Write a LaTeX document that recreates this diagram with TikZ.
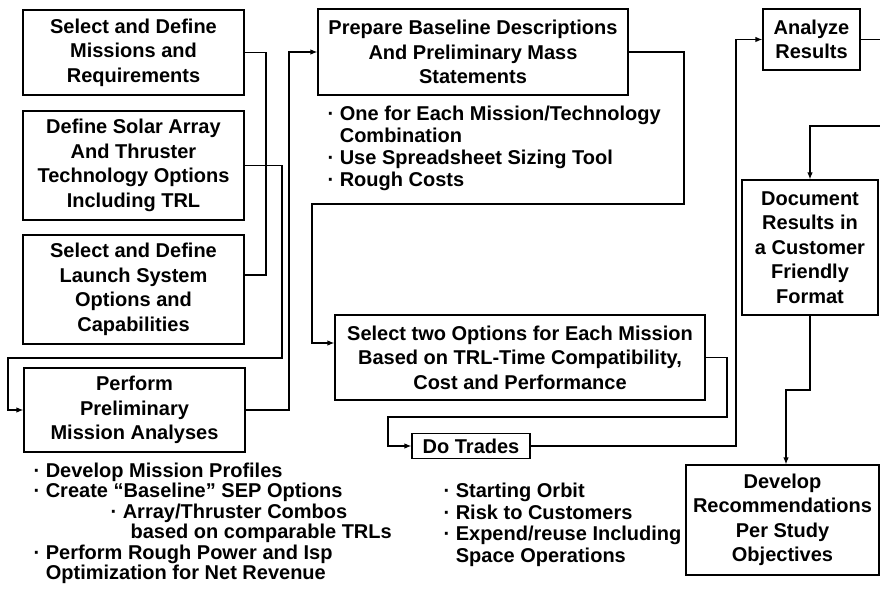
\documentclass[tikz,border=0pt]{standalone}
\usepackage{fontspec}
\setmainfont{Liberation Sans}
\usetikzlibrary{arrows.meta}
\begin{document}
\begin{tikzpicture}[x=1pt,y=-1pt,line width=1.2pt]
\tikzstyle{task} = [draw, align=center, inner sep=0, font=\bfseries\fontsize{20}{24.5}\selectfont]
\tikzstyle{notes} = [anchor=north west, align=left, inner sep=0]
\tikzstyle{arr} = [-{Latex[length=7pt,width=5.5pt]}]

\useasboundingbox (0,0) rectangle (880,601);

% left column
\node [task, minimum width=221pt, minimum height=85pt] (miss) at (133.5,52.5) {Select and Define\\Missions and\\Requirements};
\node [task, minimum width=221pt, minimum height=109pt] (tech) at (133.5,165.5) {Define Solar Array\\And Thruster\\Technology Options\\Including TRL};
\node [task, minimum width=221pt, minimum height=109pt] (launch) at (133.5,289.5) {Select and Define\\Launch System\\Options and\\Capabilities};
\node [task, minimum width=221pt, minimum height=84pt] (perf) at (134.5,410) {Perform\\Preliminary\\Mission Analyses};

% middle column
\node [task, minimum width=310pt, minimum height=86pt] (prep) at (473,52) {Prepare Baseline Descriptions\\And Preliminary Mass\\Statements};
\node [task, minimum width=370pt, minimum height=85pt] (opts) at (520,357.5) {Select two Options for Each Mission\\Based on TRL-Time Compatibility,\\Cost and Performance};
\node [task, minimum width=118pt, minimum height=25pt] (trades) at (471,446) {Do Trades};

% right column
\node [task, minimum width=97pt, minimum height=61pt] (anal) at (811.5,39.5) {Analyze\\Results};
\node [task, minimum width=136pt, minimum height=135pt] (doc) at (810,247.5) {Document\\Results in\\a Customer\\Friendly\\Format};
\node [task, minimum width=193pt, minimum height=110pt] (recs) at (782.5,520) {Develop\\Recommendations\\Per Study\\Objectives};

% bullet lists
\node [notes, font=\bfseries\fontsize{20}{20.4}\selectfont] (perfnotes) at (33,462.5) {%
· Develop Mission Profiles\\
· Create “Baseline” SEP Options\\
\hspace*{77pt}· Array/Thruster Combos\\
\hspace*{97pt}based on comparable TRLs\\
· Perform Rough Power and Isp\\
\hphantom{· }Optimization for Net Revenue};
\node [notes, font=\bfseries\fontsize{20}{22}\selectfont] (prepnotes) at (327,105.5) {%
· One for Each Mission/Technology\\
\hphantom{· }Combination\\
· Use Spreadsheet Sizing Tool\\
· Rough Costs};
\node [notes, font=\bfseries\fontsize{20}{21.7}\selectfont] (tradenotes) at (443,482.5) {%
· Starting Orbit\\
· Risk to Customers\\
· Expend/reuse Including\\
\hphantom{· }Space Operations};

% connectors
\coordinate (jl) at (266,275);
\coordinate (jo) at (312,343);
\coordinate (jr) at (786,390);
\draw (miss.east) -| (jl) -- (jl -| launch.east);
\draw [arr] (tech.east) -| (282,358) -- (8,358) |- (perf.west);
\draw [arr] (perf.east) -| (289,52) -- (prep.west);
\draw [arr] (prep.east) -| (684,204) -| (jo) -- (jo -| opts.west);
\draw [arr] (opts.east) -| (727,417) -| (388,446) -- (trades.west);
\draw [arr] (trades.east) -| (736,39.5) -- (anal.west);
\draw [arr] (anal.east) -- (890,39.5) |- (810,126) -- (doc.north);
\draw [arr] (doc.south) |- (jr) -- (jr |- recs.north);
\end{tikzpicture}
\end{document}
